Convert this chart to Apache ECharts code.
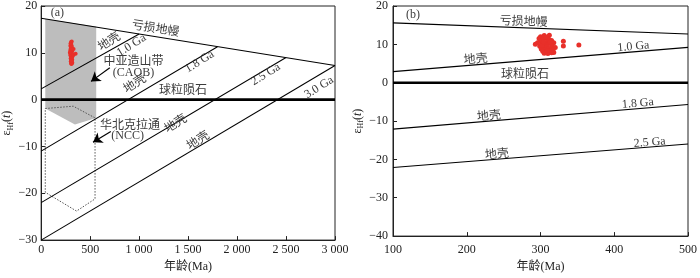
<!DOCTYPE html>
<html><head><meta charset="utf-8">
<script src="https://cdn.jsdelivr.net/npm/echarts@6/dist/echarts.min.js"></script>
<style>html,body{margin:0;padding:0;background:#fff}#c{width:700px;height:278px}</style>
</head><body><div id="c"></div>
<script>
// ---------- data ----------
const xTicksA = [0, 500, 1000, 1500, 2000, 2500, 3000];
const yTicksA = [-30, -20, -10, 0, 10, 20];
const xTicksB = [100, 200, 300, 400, 500];
const yTicksB = [-40, -30, -20, -10, 0, 10, 20];

// panel (a) reference lines [age Ma, εHf]
const dmA   = [[0, 17.4], [3000, 7.3]];
const chA   = [[0, 0], [3000, 0]];
const c10A  = [[0, 2.3], [1000, 14.0]];
const c18A  = [[0, -11.0], [1800, 11.3]];
const c25A  = [[0, -22.0], [2500, 9.0]];
const c30A  = [[0, -30.0], [3000, 7.3]];
const caobPoly = [[42, 17.2], [562, 15.6], [562, -3.9], [345, -5.3], [42, -1.9]];
const nccPoly  = [[42, -1.9], [328, -1.4], [550, -3.9], [550, -21.2], [361, -23.8], [42, -19.8], [42, -1.9]];
const arrowsA  = [[[701, 6.8], [509, 3.9]], [[711, -6.8], [529, -9.1]]];

// panel (b) reference lines
const dmB  = [[100, 15.6], [500, 12.7]];
const chB  = [[100, 0], [500, 0]];
const c10B = [[100, 2.9], [500, 9.2]];
const c18B = [[100, -12.1], [500, -5.7]];
const c25B = [[100, -22.1], [500, -16.0]];

// zircon εHf(t) samples [age Ma, εHf(t)]
const samples = [
  [300,12.0],[305,12.3],[312,12.4],[298,11.5],[303,11.3],[308,11.6],[315,11.0],[300,10.8],
  [306,10.5],[310,10.9],[318,10.4],[302,10.0],[307,9.8],[312,10.2],[316,9.6],[299,9.5],
  [304,9.2],[309,9.4],[314,9.0],[320,9.2],[301,8.8],[306,8.6],[311,8.9],[317,8.5],
  [303,8.2],[308,8.0],[313,8.3],[318,7.9],[305,7.7],[310,7.6],[315,7.8],[302,9.7],
  [311,11.4],[296,10.4],[313,10.6],[307,11.9],[309,8.4],[304,10.7],
  [293,10.0],[331,10.8],[331,9.6],[352,9.8]
];

// text annotations [age, εHf, text, rotation deg]
const labelsA = [
  [166, 18.5, '(a)', 0],
  [1167, 15.1, '亏损地幔', -9],
  [697, 12.3, '地壳', 32],
  [922, 11.6, '1.0 Ga', 32],
  [943, 8.1, '中亚造山带', 0],
  [943, 5.8, '(CAOB)', 0],
  [1618, 8.1, '1.8 Ga', 32],
  [958, 3.3, '地壳', 32],
  [1447, 1.9, '球粒陨石', 0],
  [2293, 5.4, '2.5 Ga', 32],
  [2838, 2.6, '3.0 Ga', 32],
  [907, -5.5, '华北克拉通', 0],
  [882, -7.7, '(NCC)', 0],
  [1376, -5.2, '地壳', 32],
  [1605, -8.8, '地壳', 32]
];
const labelsB = [
  [127, 17.7, '(b)', 0],
  [277, 15.85, '亏损地幔', -2],
  [426, 9.4, '1.0 Ga', 5],
  [212, 6.05, '地壳', 5],
  [279, 2.1, '球粒陨石', 0],
  [432, -5.4, '1.8 Ga', 5],
  [230, -8.75, '地壳', 5],
  [448, -15.6, '2.5 Ga', 5],
  [241, -18.75, '地壳', 5]
];

// ---------- chart ----------
const FONT = "'Liberation Serif', 'Noto Sans CJK SC', serif";
const INK = '#222';
const chart = echarts.init(document.getElementById('c'), null, {renderer: 'canvas'});

function thousands(v) { return v >= 1000 ? String(v).replace(/\B(?=(\d{3})+$)/, ' ') : String(v); }
function minus(v) { return v < 0 ? '−' + (-v) : String(v); }

function axisCommon() {
  return {
    axisLine: {show: true, onZero: false, lineStyle: {color: INK, width: 1}},
    axisTick: {show: true, inside: true, length: 4, lineStyle: {color: INK}},
    splitLine: {show: false},
    axisLabel: {color: INK, fontFamily: FONT, fontSize: 12},
    nameTextStyle: {color: INK, fontFamily: FONT, fontSize: 12}
  };
}
const yName = '{e|ε}{s|Hf}{e|(}{i|t}{e|)}';
const yRich = {
  e: {fontFamily: FONT, fontSize: 12, color: INK},
  i: {fontFamily: FONT, fontSize: 12, fontStyle: 'italic', color: INK},
  s: {fontFamily: FONT, fontSize: 8, color: INK, padding: [7, 0, 0, 0]}
};

function lineSeries(data, gi, w) {
  return {type: 'line', xAxisIndex: gi, yAxisIndex: gi, data: data, symbol: 'none', silent: true,
    lineStyle: {color: '#000', width: w || 1.1}, z: 3, animation: false};
}
function textSeries(labels, gi) {
  return {
    type: 'custom', xAxisIndex: gi, yAxisIndex: gi, data: labels.map((l, i) => [l[0], l[1], i]),
    silent: true, z: 6, animation: false,
    renderItem: function (params, api) {
      const l = labels[params.dataIndex];
      const p = api.coord([l[0], l[1]]);
      return {type: 'text', x: p[0], y: p[1], rotation: l[3] * Math.PI / 180,
        style: {text: l[2], fontFamily: FONT, fontSize: 12, fill: '#3c3c3c', align: 'center', verticalAlign: 'middle'}};
    }
  };
}
function polySeries(poly, gi, style, isLine) {
  return {
    type: 'custom', xAxisIndex: gi, yAxisIndex: gi, data: [poly[0]], silent: true, animation: false,
    z: isLine ? 2 : 1,
    renderItem: function (params, api) {
      const pts = poly.map(p => api.coord(p));
      return isLine ? {type: 'polyline', shape: {points: pts}, style: style}
                    : {type: 'polygon', shape: {points: pts}, style: style};
    }
  };
}

const option = {
  animation: false,
  backgroundColor: '#fff',
  grid: [
    {left: 37.5, right: 365, top: 4, bottom: 31, show: true, borderColor: INK, borderWidth: 1},
    {left: 393, right: 2, top: 2, bottom: 36, show: true, borderColor: INK, borderWidth: 1}
  ],
  xAxis: [
    Object.assign(axisCommon(), {gridIndex: 0, type: 'value', min: 0, max: 3000, interval: 500,
      name: '年龄(Ma)', nameLocation: 'middle', nameGap: 20,
      axisLabel: {color: INK, fontFamily: FONT, fontSize: 12, margin: 4, formatter: thousands}}),
    Object.assign(axisCommon(), {gridIndex: 1, type: 'value', min: 100, max: 500, interval: 100,
      name: '年龄(Ma)', nameLocation: 'middle', nameGap: 24,
      axisLabel: {color: INK, fontFamily: FONT, fontSize: 12, margin: 8}})
  ],
  yAxis: [
    Object.assign(axisCommon(), {gridIndex: 0, type: 'value', min: -30, max: 20, interval: 10,
      name: yName, nameLocation: 'middle', nameGap: 24, nameTextStyle: {rich: yRich},
      axisLabel: {color: INK, fontFamily: FONT, fontSize: 12, margin: 4, formatter: minus}}),
    Object.assign(axisCommon(), {gridIndex: 1, type: 'value', min: -40, max: 20, interval: 10,
      name: yName, nameLocation: 'middle', nameGap: 28, nameTextStyle: {rich: yRich},
      axisLabel: {color: INK, fontFamily: FONT, fontSize: 12, margin: 5, formatter: minus}})
  ],
  series: [
    polySeries(caobPoly, 0, {fill: '#bdbdbd', stroke: 'none'}, false),
    polySeries(nccPoly, 0, {fill: 'none', stroke: '#555', lineWidth: 1, lineDash: [1.5, 1.5]}, true),
    lineSeries(dmA, 0), lineSeries(c10A, 0), lineSeries(c18A, 0), lineSeries(c25A, 0), lineSeries(c30A, 0),
    lineSeries(chA, 0, 2.6),
    {type: 'lines', coordinateSystem: 'cartesian2d', xAxisIndex: 0, yAxisIndex: 0, silent: true, animation: false,
      symbol: ['none', 'arrow'], symbolSize: 9, z: 5,
      lineStyle: {color: '#000', width: 1.2, opacity: 1},
      data: arrowsA.map(a => ({coords: a}))},
    {type: 'scatter', xAxisIndex: 0, yAxisIndex: 0, data: samples, symbolSize: 4, silent: true, z: 4,
      itemStyle: {color: '#e8302a', opacity: 1}},
    textSeries(labelsA, 0),
    lineSeries(dmB, 1), lineSeries(c10B, 1), lineSeries(c18B, 1), lineSeries(c25B, 1),
    lineSeries(chB, 1, 2.6),
    {type: 'scatter', xAxisIndex: 1, yAxisIndex: 1, data: samples, symbolSize: 5, silent: true, z: 4,
      itemStyle: {color: '#e8302a', opacity: 1}},
    textSeries(labelsB, 1)
  ]
};
chart.setOption(option);
</script>
</body></html>
